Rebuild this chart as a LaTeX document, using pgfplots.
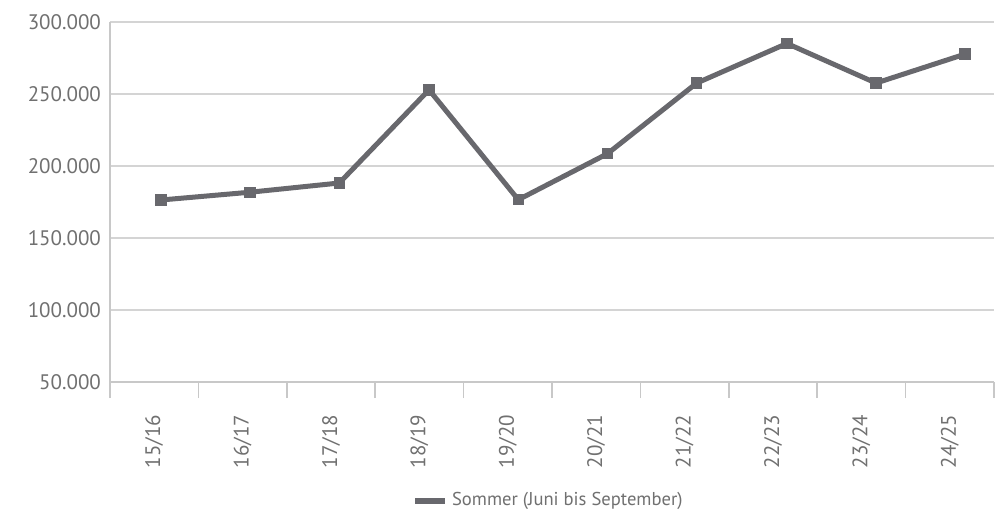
\documentclass[border=0pt]{standalone}
\usepackage{pgfplots}
\pgfplotsset{compat=1.18}
\usepackage{fontspec}
\setmainfont{PT Sans}
\definecolor{lineg}{RGB}{104,104,109}
\definecolor{txtg}{RGB}{112,112,112}
\definecolor{gridg}{RGB}{212,212,212}
\definecolor{axg}{RGB}{200,200,200}
\begin{document}
\begin{tikzpicture}
\begin{axis}[
  scale only axis,
  width=442pt, height=180pt,
  xmin=-0.5, xmax=9.5,
  ymin=50000, ymax=300000,
  ytick={50000,100000,150000,200000,250000,300000},
  scaled y ticks=false,
  xtick={0,...,9},
  xticklabels={15/16,16/17,17/18,18/19,19/20,20/21,21/22,22/23,23/24,24/25},
  minor xtick={-0.5,0.5,...,9.5},
  axis x line*=bottom, axis y line*=left,
  axis line style={axg, line width=0.8pt, -},
  major tick length=0pt,
  minor tick length=8pt,
  tick align=outside,
  minor tick style={axg, line width=0.8pt},
  ymajorgrids,
  grid style={gridg, line width=0.8pt},
  /pgf/number format/.cd, 1000 sep={.}, fixed, precision=0, assume math mode=true,
  /pgfplots/.cd,
  ticklabel style={font=\fontsize{10.5}{12}\selectfont, text=txtg},
  yticklabel style={xshift=-1pt},
  xticklabel style={rotate=90, anchor=east, xshift=-13pt},
  legend style={at={(axis description cs:0.497,-0.33)}, anchor=center, draw=none,
    font=\fontsize{9.3}{11}\selectfont, text=txtg, legend columns=1},
  legend image code/.code={\draw[lineg, line width=3pt] (0cm,0cm) -- (15pt,0cm);},
]
\addplot[lineg, line width=2.5pt, mark=square*, mark size=2.6pt, mark options={solid, fill=lineg, draw=lineg, line width=0pt}]
 coordinates {
 (0.077,176400) (1.084,181800) (2.094,188200) (3.109,252900) (4.119,176600)
 (5.126,208500) (6.137,257600) (7.158,285100) (8.165,257600) (9.172,277700)
 };
\addlegendentry{Sommer (Juni bis September)}
\end{axis}
\pgfresetboundingbox
\path[use as bounding box] (-55pt,-67pt) rectangle (446pt,191pt);
\end{tikzpicture}
\end{document}
